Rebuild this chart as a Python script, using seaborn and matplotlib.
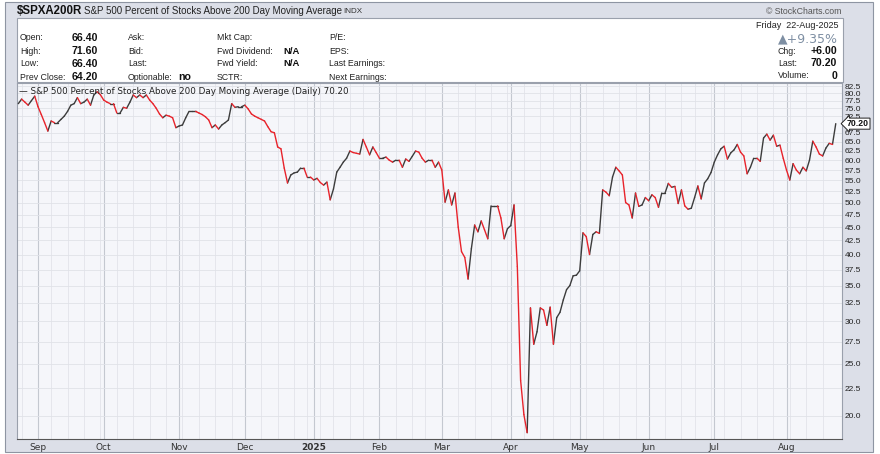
import numpy as np
import pandas as pd
import matplotlib
matplotlib.use("Agg")
import matplotlib.pyplot as plt
import matplotlib.transforms as mtransforms
from matplotlib.patches import Rectangle
from matplotlib.ticker import FixedLocator, NullLocator, FixedFormatter
import seaborn as sns

# ---------------- data ----------------
values = [
    76.5, 78.0, 77.0, 76.0, 77.5, 79.0, 75.5, 73.0, 70.5, 68.0,
    71.0, 70.5, 70.5, 71.5, 72.5, 74.0, 76.0, 76.5, 78.5, 76.5,
    77.0, 78.0, 76.0, 79.4, 80.5, 79.5, 77.7, 77.0, 76.5, 76.5,
    73.5, 73.5, 75.3, 75.0, 77.0, 79.4, 78.5, 79.4, 78.5, 79.4,
    77.7, 76.5, 75.0, 73.2, 72.0, 72.8, 72.5, 72.0, 69.0, 69.5,
    69.8, 72.0, 74.0, 74.0, 74.0, 73.5, 73.0, 72.3, 71.3, 69.0,
    69.8, 68.6, 69.8, 70.5, 71.3, 76.5, 75.3, 75.5, 75.5, 76.0,
    74.8, 73.2, 72.5, 72.0, 71.5, 71.0, 69.3, 67.8, 67.5, 63.5,
    63.0, 58.0, 54.4, 56.3, 56.8, 57.0, 58.0, 58.0, 55.8, 55.8,
    55.1, 55.5, 54.5, 53.9, 54.6, 50.6, 53.0, 57.0, 58.2, 59.5,
    60.5, 62.4, 62.0, 61.8, 61.6, 65.6, 63.5, 61.4, 63.5, 62.0,
    60.5, 60.5, 60.8, 60.0, 59.5, 60.0, 60.0, 58.2, 60.3, 59.7,
    61.0, 62.4, 62.1, 60.5, 59.5, 60.0, 60.0, 58.2, 59.5, 57.5,
    50.1, 52.8, 49.5, 52.1, 45.0, 40.5, 39.5, 36.0, 41.0, 45.4,
    44.1, 46.2, 44.5, 42.8, 49.3, 49.3, 49.3, 46.8, 42.8, 44.7,
    45.3, 49.5, 38.0, 23.3, 20.1, 18.6, 31.8, 27.2, 28.7, 31.8,
    31.5, 29.5, 31.9, 27.2, 30.5, 31.2, 32.9, 34.4, 35.0, 36.5,
    36.6, 37.3, 43.9, 43.2, 40.0, 43.6, 44.1, 43.8, 52.8, 52.3,
    51.5, 55.8, 58.2, 57.3, 56.3, 50.0, 49.5, 46.8, 52.1, 49.2,
    49.5, 51.1, 50.4, 51.7, 51.1, 49.0, 52.1, 52.1, 54.3, 53.4,
    53.6, 49.8, 52.8, 49.3, 48.6, 48.8, 51.1, 53.7, 50.8, 54.4,
    55.4, 56.9, 59.5, 61.4, 63.0, 63.7, 60.3, 61.9, 62.7, 64.2,
    62.1, 61.1, 56.6, 58.2, 60.5, 60.5, 59.7, 66.0, 67.1, 65.4,
    66.8, 63.7, 64.0, 60.5, 57.5, 55.1, 59.1, 57.5, 56.6, 58.2,
    57.3, 60.0, 65.1, 63.5, 61.6, 61.1, 63.2, 64.5, 64.2, 70.2,
]
holidays = ["2024-09-02", "2024-11-28", "2024-12-25", "2025-01-01", "2025-01-09",
            "2025-01-20", "2025-02-17", "2025-04-18", "2025-05-26", "2025-06-19",
            "2025-07-04"]
month_labels = ["Sep", "Oct", "Nov", "Dec", "2025", "Feb", "Mar", "Apr",
                "May", "Jun", "Jul", "Aug"]
y_ticks = [20.0, 22.5, 25.0, 27.5, 30.0, 32.5, 35.0, 37.5, 40.0, 42.5, 45.0,
           47.5, 50.0, 52.5, 55.0, 57.5, 60.0, 62.5, 65.0, 67.5, 72.5, 75.0,
           77.5, 80.0, 82.5]

dates = pd.bdate_range("2024-08-23", "2025-08-22", freq="C", holidays=holidays)
n = min(len(dates), len(values))
dates = dates[:n]
vals = np.array(values[:n])
idx = np.arange(n)

# segments coloured by direction
rows = []
for i in range(n - 1):
    d = "down" if vals[i + 1] < vals[i] else "up"
    rows.append((i, idx[i], vals[i], d))
    rows.append((i, idx[i + 1], vals[i + 1], d))
df = pd.DataFrame(rows, columns=["seg", "x", "y", "dir"])

month_pos = [i for i in range(1, n) if dates[i].month != dates[i - 1].month]
week_pos = [i for i in range(1, n) if dates[i].weekday() < dates[i - 1].weekday()
            or (dates[i] - dates[i - 1]).days > 3]

# ---------------- figure ----------------
sns.set_theme(style="white")
plt.rcParams["font.family"] = ["Liberation Sans", "DejaVu Sans"]

W, H = 880, 454
fig = plt.figure(figsize=(W / 100, H / 100), dpi=100, facecolor="white")


def fx(x):
    return x / W


def fy(y):
    return 1 - y / H


fig.patches.append(Rectangle((fx(5), fy(452)), 868 / W, 450 / H, transform=fig.transFigure,
                             facecolor="#dcdfe8", edgecolor="#8e95a2", lw=0.8, zorder=-3))
fig.patches.append(Rectangle((fx(17), fy(82)), 826 / W, 64 / H, transform=fig.transFigure,
                             facecolor="white", edgecolor="#9aa0ac", lw=0.8, zorder=-2))

ax = fig.add_axes([fx(17), fy(439), 825 / W, 356 / H])
ax.set_zorder(1)
ax.set_facecolor("#f5f6fa")

sns.lineplot(data=df, x="x", y="y", units="seg", estimator=None, hue="dir",
             palette={"up": "#3c3c3c", "down": "#e8232b"}, legend=False,
             linewidth=1.0, sort=False, ax=ax, zorder=3)

ax.set_yscale("log")
ax.set_ylim(18.1, 83.6)
ax.set_xlim(-0.4, 250.9)
ax.set_xlabel("")
ax.set_ylabel("")

ax.yaxis.tick_right()
ax.yaxis.set_major_locator(FixedLocator(y_ticks))
ax.yaxis.set_major_formatter(FixedFormatter([f"{t:.1f}" for t in y_ticks]))
ax.yaxis.set_minor_locator(NullLocator())
ax.tick_params(axis="y", which="both", length=0, pad=2, labelsize=6.0, labelcolor="#222222")

ax.xaxis.set_major_locator(FixedLocator(month_pos))
ax.xaxis.set_major_formatter(FixedFormatter(month_labels[:len(month_pos)]))
ax.xaxis.set_minor_locator(FixedLocator(week_pos))
ax.tick_params(axis="x", which="both", length=0, pad=3, labelsize=6.5, labelcolor="#333333")
for lab in ax.get_xticklabels():
    lab.set_fontfamily("DejaVu Sans")
    if lab.get_text() == "2025":
        lab.set_fontweight("bold")

ax.grid(which="major", axis="x", color="#c4c8d0", lw=0.8)
ax.grid(which="minor", axis="x", color="#e2e4ea", lw=0.6)
ax.grid(which="major", axis="y", color="#e0e2e8", lw=0.6)
ax.set_axisbelow(True)

for side in ["left", "top", "right"]:
    ax.spines[side].set_color("#9aa0ac")
    ax.spines[side].set_linewidth(0.8)
ax.spines["bottom"].set_color("#555555")
ax.spines["bottom"].set_linestyle((0, (1, 1)))
ax.spines["bottom"].set_linewidth(0.8)

ax.text(0.003, 0.988, "\u2014 S&P 500 Percent of Stocks Above 200 Day Moving Average (Daily) 70.20",
        transform=ax.transAxes, fontsize=6.3, family="DejaVu Sans", color="#222222",
        va="top", ha="left", zorder=5)

blend = mtransforms.blended_transform_factory(ax.transAxes, ax.transData)
ax.text(1.006, vals[-1], f"{vals[-1]:.2f}", transform=blend, fontsize=6.3, fontweight="bold",
        va="center", ha="left", color="#111111",
        bbox=dict(boxstyle="larrow,pad=0.12", fc="white", ec="#222222", lw=0.7), zorder=6)

# ---------------- header ----------------
fig.text(fx(17), fy(11), "$SPXA200R", fontsize=8.3, fontweight="bold", va="center", ha="left",
         color="#111111")
fig.text(fx(84), fy(11), "S&P 500 Percent of Stocks Above 200 Day Moving Average", fontsize=7,
         va="center", ha="left", color="#222222")
fig.text(fx(343), fy(11.5), "INDX", fontsize=5.8, va="center", ha="left", color="#333333")
fig.text(fx(841), fy(12), "\u00a9 StockCharts.com", fontsize=6.3, va="center", ha="right",
         color="#555555")

row_y = [38, 51, 64, 77]
lab_kw = dict(fontsize=6.3, va="center", ha="left", color="#222222")
val_kw = dict(fontsize=7.6, fontweight="bold", va="center", ha="right", color="#111111")
for y, lab, v in zip(row_y, ["Open:", "High:", "Low:", "Prev Close:"],
                     ["66.40", "71.60", "66.40", "64.20"]):
    fig.text(fx(20), fy(y), lab, **lab_kw)
    fig.text(fx(98), fy(y), v, **val_kw)
for y, lab in zip(row_y, ["Ask:", "Bid:", "Last:", "Optionable:"]):
    fig.text(fx(128), fy(y), lab, **lab_kw)
fig.text(fx(178), fy(row_y[3]), "no", fontsize=7.6, fontweight="bold", va="center", ha="left",
         color="#111111")
for y, lab in zip(row_y, ["Mkt Cap:", "Fwd Dividend:", "Fwd Yield:", "SCTR:"]):
    fig.text(fx(217), fy(y), lab, **lab_kw)
for y in row_y[1:3]:
    fig.text(fx(283), fy(y), "N/A", fontsize=6.8, fontweight="bold", va="center", ha="left",
             color="#111111")
for y, lab in zip(row_y, ["P/E:", "EPS:", "Last Earnings:", "Next Earnings:"]):
    fig.text(fx(329), fy(y), lab, **lab_kw)

fig.text(fx(838), fy(25), "Friday  22-Aug-2025", fontsize=6.5, va="center", ha="right",
         color="#222222")
fig.text(fx(838), fy(38.5), "\u25b2+9.35%", fontsize=9, va="center", ha="right",
         color="#7e8fa3", family=["DejaVu Sans"])
for y, lab, v in zip([51, 63.5, 76], ["Chg:", "Last:", "Volume:"], ["+6.00", "70.20", "0"]):
    fig.text(fx(778), fy(y), lab, **lab_kw)
    fig.text(fx(837), fy(y), v, **val_kw)

fig.savefig("out.png", dpi=100, facecolor=fig.get_facecolor())
